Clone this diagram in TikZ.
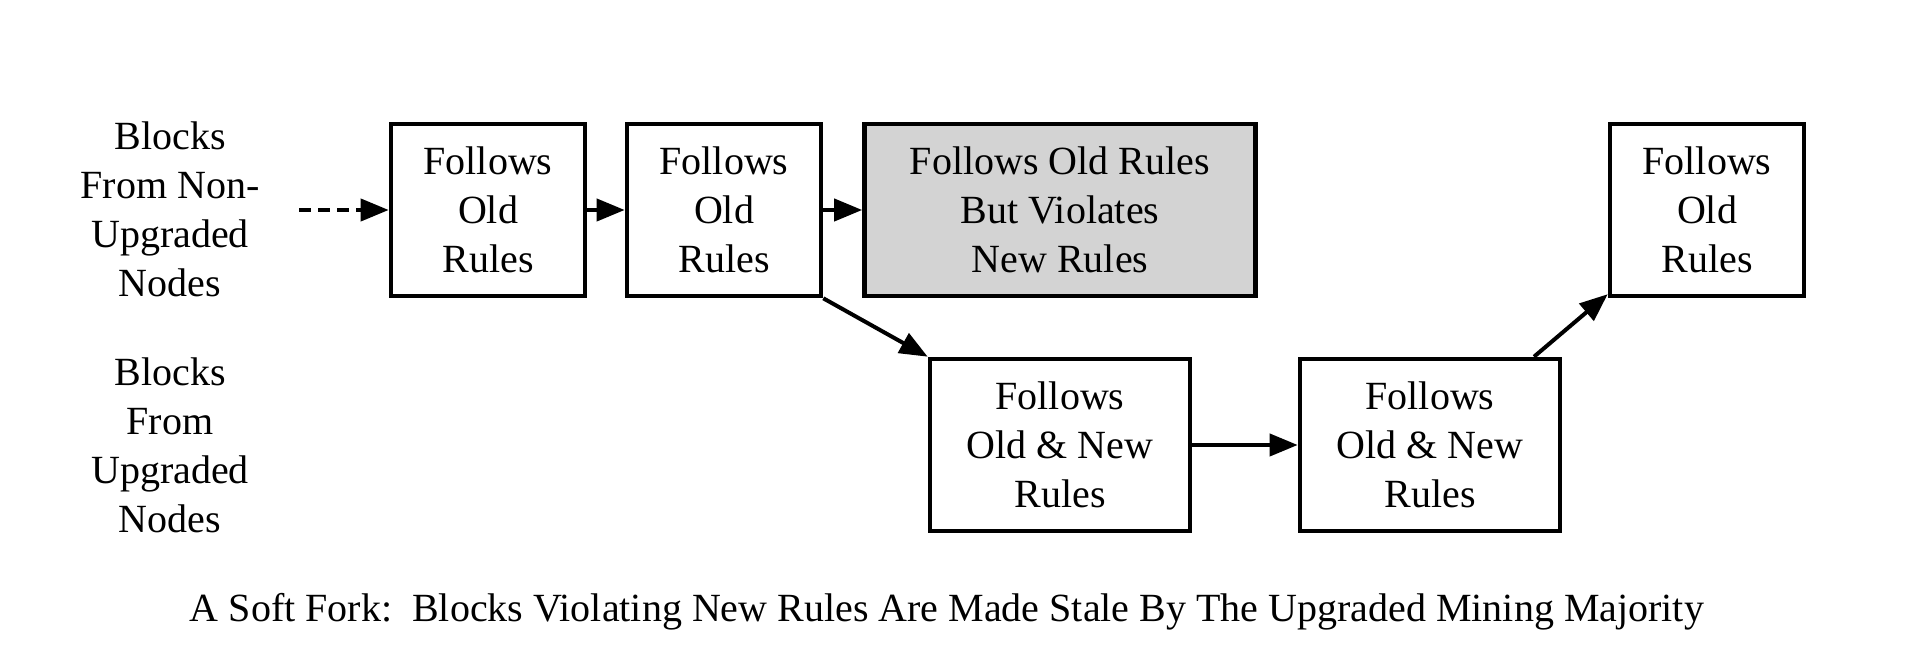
\documentclass[tikz,border=0pt]{standalone}
\usepackage{fontspec}
\setmainfont{Liberation Serif}
\usetikzlibrary{arrows.meta}
\begin{document}
\begin{tikzpicture}[x=0.5pt,y=-0.5pt,
  blk/.style={draw=black, line width=2.3pt, fill=white, inner sep=0pt, align=center,
    minimum width=97pt, minimum height=86pt, font=\fontsize{20}{24.5}\selectfont},
  wideblk/.style={blk, minimum width=130pt},
  lbl/.style={align=center, inner sep=0pt, font=\fontsize{20}{24.5}\selectfont},
  arr/.style={line width=2pt, -{Triangle[length=14pt,width=11pt]}}]
\useasboundingbox (0,0) rectangle (1928,662);
\node[lbl] (l1) at (170,209) {Blocks\\From Non-\\Upgraded\\Nodes};
\node[lbl] (l2) at (170,445) {Blocks\\From\\Upgraded\\Nodes};
\coordinate (start) at (299,210);
\node[blk] (b1) at (488,210) {Follows\\Old\\Rules};
\node[blk] (b2) at (724,210) {Follows\\Old\\Rules};
\node[blk, minimum width=195.5pt, fill={rgb,255:red,211;green,211;blue,211}] (b3) at (1060,210) {Follows Old Rules\\But Violates\\New Rules};
\node[blk] (b4) at (1707,210) {Follows\\Old\\Rules};
\node[wideblk] (b5) at (1060,445) {Follows\\Old \& New\\Rules};
\node[wideblk] (b6) at (1430,445) {Follows\\Old \& New\\Rules};
\draw[arr, dash pattern=on 6pt off 3.5pt] (start) -- (b1);
\draw[arr] (b1) -- (b2);
\draw[arr] (b2) -- (b3);
\draw[arr] (b2.south east) -- (b5.north west);
\draw[arr] (b5) -- (b6);
\draw[arr] (b6) -- (b4);
\node[lbl] (cap) at (947,612) {A Soft Fork:\ \ Blocks Violating New Rules Are Made Stale By The Upgraded Mining Majority};
\end{tikzpicture}
\end{document}
